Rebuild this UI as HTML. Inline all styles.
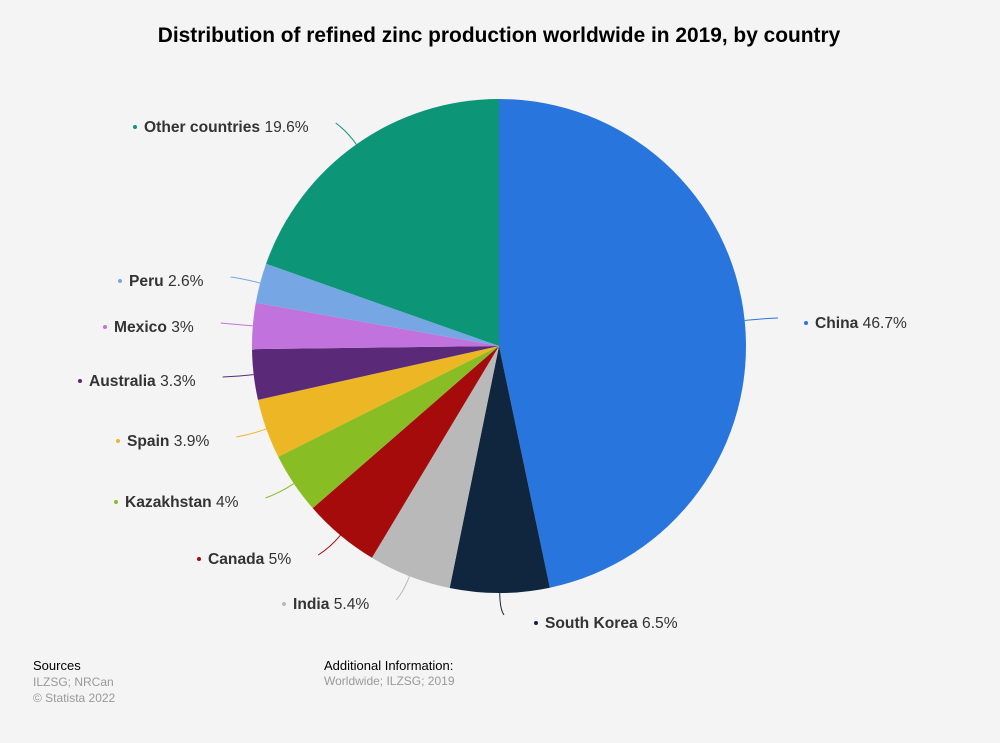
<!DOCTYPE html>
<html><head><meta charset="utf-8"><style>
body{margin:0;background:#f4f4f4;font-family:"Liberation Sans",Arial,sans-serif;}
#wrap{position:relative;width:1000px;height:743px;overflow:hidden;}
.t{position:absolute;font-size:13px;}
</style></head><body>
<div id="wrap">
<svg id="chart" width="1000" height="743">
<text x="499" y="42" text-anchor="middle" font-size="20.9" font-weight="bold" fill="#000">Distribution of refined zinc production worldwide in 2019, by country</text>
</svg>
<div class="t" style="left:33px;top:658px;color:#000">Sources</div>
<div class="t" style="left:33px;top:674px;color:#999;font-size:12px;line-height:16px">ILZSG; NRCan<br>© Statista 2022</div>
<div class="t" style="left:324px;top:658px;color:#000">Additional Information:</div>
<div class="t" style="left:324px;top:674px;color:#999;font-size:12px">Worldwide; ILZSG; 2019</div>
</div>
<script>
const categories=["China","South Korea","India","Canada","Kazakhstan","Spain","Australia","Mexico","Peru","Other countries"];
const values=[46.7,6.5,5.4,5,4,3.9,3.3,3,2.6,19.6];
const valueLabels=["46.7%","6.5%","5.4%","5%","4%","3.9%","3.3%","3%","2.6%","19.6%"];
const colors=["#2876dd","#10263e","#b9b9b9","#a60b0b","#89bd24","#ecb624","#5a2a78","#c172dc","#76a6e3","#0c9577"];
const labelPos=[[806,323],[536,623],[284,604],[199,559],[116,502],[118,441],[80,381],[105,327],[120,281],[135,127]];
const NS="http://www.w3.org/2000/svg";
const svg=document.getElementById('chart');
const cx=499,cy=346,r=247;
const total=values.reduce((a,b)=>a+b,0);
function pt(a,rr){return [cx+rr*Math.sin(a),cy-rr*Math.cos(a)];}
let acc=0;
values.forEach((v,i)=>{
  const a0=acc/total*2*Math.PI;acc+=v;const a1=acc/total*2*Math.PI;
  const p0=pt(a0,r),p1=pt(a1,r);
  const path=document.createElementNS(NS,'path');
  path.setAttribute('d',`M${cx},${cy}L${p0[0]},${p0[1]}A${r},${r} 0 ${a1-a0>Math.PI?1:0} 1 ${p1[0]},${p1[1]}Z`);
  path.setAttribute('fill',colors[i]);
  
  
  svg.appendChild(path);
  const [lx,ly]=labelPos[i];const right=lx>cx;
  const dot=document.createElementNS(NS,'circle');
  dot.setAttribute('cx',lx);dot.setAttribute('cy',ly);dot.setAttribute('r',2);dot.setAttribute('fill',colors[i]);
  
  
  svg.appendChild(dot);
  const t=document.createElementNS(NS,'text');
  t.setAttribute('x',lx+9);t.setAttribute('y',ly+5);t.setAttribute('font-size','15.6');t.setAttribute('fill','#333');
  
  
  const b=document.createElementNS(NS,'tspan');b.setAttribute('font-weight','bold');b.textContent=categories[i];
  const n=document.createElementNS(NS,'tspan');n.textContent=' '+valueLabels[i];
  t.appendChild(b);t.appendChild(n);svg.appendChild(t);
  const tw=t.getComputedTextLength();
  const am=(a0+a1)/2;const s=pt(am,r),m=pt(am,r+16);
  let endx,endy;
  if(i===1){endx=lx-32;endy=ly-8;}
  else if(right){endx=lx-28;endy=ly-5;}
  else{endx=lx+9+tw+27;endy=ly-4;}
  const line=document.createElementNS(NS,'path');
  line.setAttribute('d',`M${s[0]},${s[1]}Q${m[0]},${m[1]} ${endx},${endy}`);
  line.setAttribute('fill','none');line.setAttribute('stroke',colors[i]);line.setAttribute('stroke-width','1');
  
  
  svg.insertBefore(line,svg.children[1]);
});
</script>
</body></html>
